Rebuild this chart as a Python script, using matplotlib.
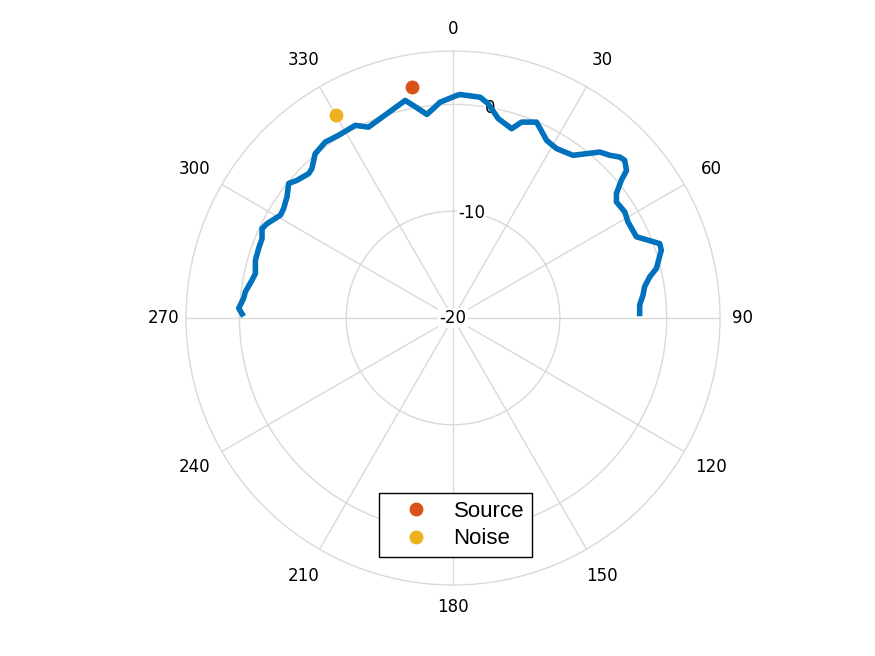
import numpy as np
import matplotlib.pyplot as plt

# beam pattern (degrees clockwise from north, level in dB)
theta_deg = [-88.9, -87.4, -84.6, -82.8, -79.3, -77.3, -73.7, -70.3, -67.4, -64.9,
             -63.1, -59.2, -57.1, -53.9, -50.7, -48.6, -45.0, -43.4, -40.0, -36.0,
             -32.1, -26.9, -23.9, -17.9, -12.4, -10.6, -7.3, -3.4, 0.95, 1.8,
             7.0, 9.3, 12.8, 17.2, 19.3, 23.1, 27.8, 31.4, 36.4, 41.5,
             43.9, 46.0, 47.4, 49.6, 50.7, 52.7, 54.6, 58.3, 61.2, 66.1,
             70.2, 71.95, 76.3, 78.2, 80.7, 83.1, 86.0, 88.6]
level_db = [-0.25, 0.09, -0.31, -0.40, -0.85, -1.03, -0.72, -0.67, -0.63, -0.25,
            -0.47, -1.19, -1.11, -0.76, -0.11, -0.51, -0.88, -0.76, 0.08, 0.36,
            0.19, 0.23, -0.45, 0.11, 0.86, 0.25, -0.78, 0.25, 0.84, 0.94,
            0.83, 0.34, -0.86, -1.44, -0.56, -0.06, -1.20, -1.41, -1.07, 0.75,
            1.15, 1.70, 1.83, 1.33, 0.37, -0.77, -1.23, -1.10, -1.31, -1.22,
            0.57, 0.51, -0.40, -1.19, -1.82, -2.08, -2.48, -2.52]

source_theta, source_r = -10.0, 2.0
noise_theta, noise_r = -30.0, 2.0

r_min, r_max = -20, 5
r_ticks = [-20, -10, 0]
theta_ticks = np.arange(0, 360, 30)

fig = plt.figure(figsize=(8.75, 6.56), dpi=100)
ax = fig.add_axes([0.2126, 0.1082, 0.6103, 0.814], projection='polar')
ax.set_theta_zero_location('N')
ax.set_theta_direction(-1)
ax.set_ylim(r_min, r_max)
ax.set_rorigin(r_min)
ax.set_axisbelow(True)

grid_col = '#d9d9d9'
ax.set_xticks(np.deg2rad(theta_ticks))
ax.set_xticklabels([])
ax.set_yticks(r_ticks)
ax.set_yticklabels([])
ax.grid(True, color=grid_col, linewidth=1)
ax.spines['polar'].set_color(grid_col)
ax.spines['polar'].set_linewidth(1)

# angle labels outside the rim; diagonal ones sit a little further out
for t in theta_ticks:
    off = 2.1 + 0.95 * abs(np.sin(np.deg2rad(2 * t)))
    ax.text(np.deg2rad(t), r_max + off, str(t), fontsize=12, ha='center', va='center',
            clip_on=False)

for rt in r_ticks:
    ax.text(np.deg2rad(10), rt, str(rt), fontsize=12, ha='center', va='center', zorder=2,
            bbox=dict(facecolor='white', edgecolor='none', pad=1))

ax.plot(np.deg2rad(theta_deg), level_db, color='#0072BD', linewidth=4, zorder=3)
ax.plot(np.deg2rad(source_theta), source_r, 'o', color='#D95319', markersize=9,
        label='Source', zorder=4)
ax.plot(np.deg2rad(noise_theta), noise_r, 'o', color='#EDB120', markersize=9,
        label='Noise', zorder=4)

leg = fig.legend(loc='center', bbox_to_anchor=(0.5205, 0.1995), fancybox=False,
                 edgecolor='black', framealpha=1,
                 prop={'family': 'Liberation Sans', 'size': 16},
                 handlelength=2.6, handletextpad=0.4, borderpad=0.35, labelspacing=0.3)
leg.get_frame().set_linewidth(1)

fig.savefig('out.png', dpi=100)
